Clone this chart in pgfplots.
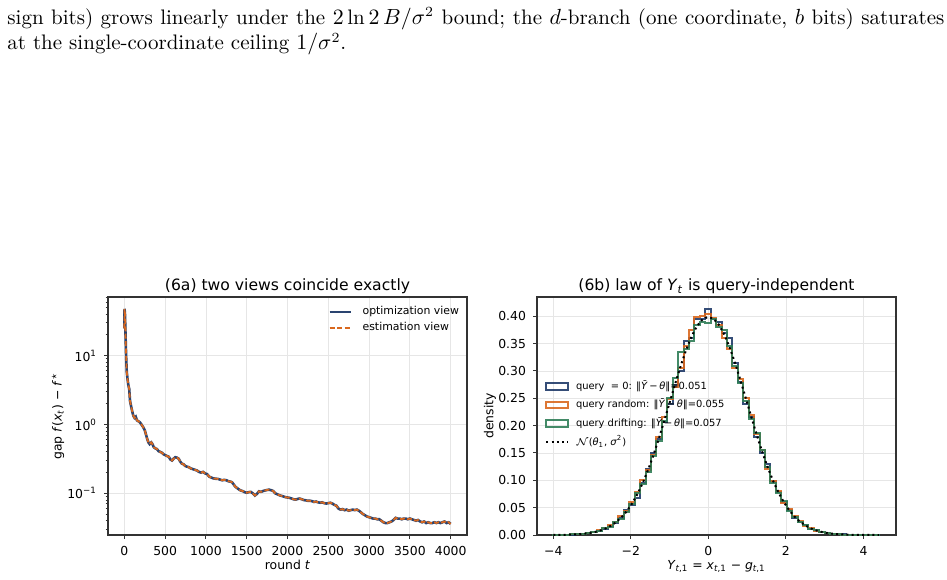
\documentclass[border=0pt]{standalone}
\usepackage{fontspec}
\usepackage{pgfplots}
\pgfplotsset{compat=1.18}
\usepackage{pgfplotstable}
\newfontfamily\dv{DejaVu Sans}
\definecolor{navy}{HTML}{1F3A68}
\definecolor{orng}{HTML}{D9681E}
\definecolor{grn}{HTML}{2F7D57}
\definecolor{gridc}{HTML}{E6E6E6}
\newcommand\tickfont{\dv\fontsize{6.2}{7.4}\selectfont}
\newcommand\labfont{\dv\fontsize{6.2}{7.4}\selectfont}
\newcommand\titfont{\dv\fontsize{7.8}{9.2}\selectfont}
\newcommand\legfont{\dv\fontsize{5.45}{6.5}\selectfont}
\newcommand\legfontb{\dv\fontsize{4.95}{5.9}\selectfont}

\pgfplotstableread{
t v
0 25
3 48
8 40
15 20
22 10
30 5.8
40 4.5
50 3.7
60 3.3
70 2.2
85 1.8
100 1.5
110 1.35
125 1.25
140 1.3
155 1.15
170 1.12
190 1.08
210 1.0
230 0.92
250 0.83
265 0.72
280 0.62
295 0.55
310 0.52
330 0.55
345 0.52
360 0.47
380 0.45
400 0.44
420 0.41
440 0.40
460 0.39
480 0.37
500 0.36
520 0.35
545 0.34
565 0.31
585 0.30
605 0.32
625 0.335
645 0.33
665 0.32
685 0.29
705 0.27
725 0.265
745 0.25
765 0.245
790 0.24
815 0.23
840 0.225
865 0.22
890 0.215
915 0.205
940 0.20
965 0.205
990 0.195
1015 0.19
1040 0.175
1065 0.17
1090 0.165
1120 0.163
1150 0.162
1175 0.158
1200 0.155
1225 0.157
1250 0.155
1275 0.150
1300 0.148
1320 0.145
1340 0.135
1360 0.125
1380 0.12
1400 0.115
1425 0.11
1450 0.108
1475 0.104
1500 0.102
1525 0.104
1550 0.105
1575 0.10
1600 0.093
1625 0.098
1650 0.107
1675 0.105
1700 0.108
1725 0.11
1750 0.112
1775 0.113
1800 0.111
1825 0.108
1850 0.10
1875 0.097
1900 0.094
1925 0.092
1950 0.090
1975 0.088
2000 0.087
2025 0.086
2050 0.084
2075 0.082
2100 0.081
2125 0.083
2150 0.084
2175 0.082
2200 0.080
2225 0.079
2250 0.078
2275 0.078
2300 0.077
2325 0.075
2350 0.076
2375 0.074
2400 0.073
2425 0.074
2450 0.072
2475 0.071
2500 0.072
2525 0.073
2550 0.071
2575 0.068
2600 0.066
2625 0.060
2650 0.058
2675 0.059
2700 0.057
2725 0.058
2750 0.056
2775 0.057
2800 0.058
2825 0.057
2850 0.058
2875 0.056
2900 0.053
2925 0.050
2950 0.048
2975 0.046
3000 0.045
3025 0.044
3050 0.043
3075 0.043
3100 0.042
3125 0.042
3150 0.040
3175 0.038
3200 0.037
3225 0.037
3250 0.038
3275 0.039
3300 0.041
3325 0.044
3350 0.043
3375 0.043
3400 0.042
3425 0.043
3450 0.043
3475 0.042
3500 0.043
3525 0.042
3550 0.041
3575 0.040
3600 0.041
3625 0.039
3650 0.038
3675 0.039
3700 0.037
3725 0.038
3750 0.037
3775 0.037
3800 0.038
3825 0.037
3850 0.038
3875 0.037
3900 0.038
3925 0.039
3950 0.037
3975 0.038
4000 0.036
}\gaptab

\pgfplotstableread{
x b o g
-4.00 0 0 0
-4.00 .0002 .0003 .0002
-3.86 .0004 .0003 .0005
-3.72 .0006 .0007 .0004
-3.58 .0009 .0010 .0012
-3.44 .0016 .0013 .0015
-3.30 .0020 .0026 .0024
-3.16 .0036 .0030 .0038
-3.02 .0048 .0060 .0055
-2.88 .0082 .0085 .0072
-2.74 .0110 .0125 .0120
-2.60 .0170 .0175 .0150
-2.46 .0220 .0245 .0240
-2.32 .0310 .0345 .0300
-2.18 .0450 .0440 .0420
-2.04 .0540 .0600 .0560
-1.90 .0680 .0790 .0760
-1.76 .0960 .1000 .0930
-1.62 .1210 .1180 .1150
-1.48 .1500 .1460 .1450
-1.34 .1760 .1800 .1720
-1.20 .2060 .2150 .2080
-1.06 .2400 .2480 .2500
-0.92 .2740 .2700 .2880
-0.78 .3000 .3050 .3350
-0.64 .3550 .3450 .3400
-0.50 .3600 .3750 .3550
-0.36 .3950 .3980 .3850
-0.22 .3950 .4000 .3900
-0.08 .4140 .4050 .3880
0.06 .3950 .3970 .3950
0.20 .3900 .3850 .3800
0.34 .3700 .3600 .3750
0.48 .3600 .3400 .3450
0.62 .3150 .3050 .3100
0.76 .2800 .2850 .2780
0.90 .2400 .2500 .2460
1.04 .2150 .2200 .2120
1.18 .1800 .1850 .1870
1.32 .1500 .1550 .1550
1.46 .1300 .1200 .1250
1.60 .0980 .0990 .0960
1.74 .0780 .0800 .0760
1.88 .0600 .0580 .0620
2.02 .0450 .0470 .0440
2.16 .0310 .0350 .0330
2.30 .0240 .0250 .0230
2.44 .0175 .0165 .0180
2.58 .0115 .0125 .0110
2.72 .0085 .0080 .0090
2.86 .0050 .0060 .0052
3.00 .0038 .0034 .0040
3.14 .0022 .0025 .0020
3.28 .0016 .0014 .0017
3.42 .0010 .0008 .0009
3.56 .0006 .0004 .0005
3.70 .0003 .0004 .0002
3.84 .0002 .0001 .0003
3.98 .0001 .0002 .0001
4.12 .0000 .0001 .0001
4.26 .0001 .0000 .0001
4.40 .0001 .0000 .0001
4.40 0 0 0
}\histtab

\pgfplotstableread{
x p
-4.00 .0001
-3.93 .0002
-3.79 .0003
-3.65 .0005
-3.51 .0008
-3.37 .0014
-3.23 .0022
-3.09 .0034
-2.95 .0051
-2.81 .0077
-2.67 .0113
-2.53 .0163
-2.39 .0229
-2.25 .0317
-2.11 .0431
-1.97 .0573
-1.83 .0748
-1.69 .0957
-1.55 .1200
-1.41 .1476
-1.27 .1781
-1.13 .2107
-0.99 .2444
-0.85 .2780
-0.71 .3101
-0.57 .3393
-0.43 .3637
-0.29 .3825
-0.15 .3945
-0.01 .3989
0.13 .3956
0.27 .3847
0.41 .3668
0.55 .3429
0.69 .3144
0.83 .2822
0.97 .2492
1.11 .2154
1.25 .1826
1.39 .1518
1.53 .1238
1.67 .0989
1.81 .0775
1.95 .0596
2.09 .0449
2.23 .0331
2.37 .0240
2.51 .0171
2.65 .0119
2.79 .0081
2.93 .0055
3.07 .0036
3.21 .0023
3.35 .0015
3.49 .0009
3.63 .0005
3.77 .0003
3.91 .0002
4.05 .0001
4.19 .0001
4.33 .0000
4.40 .0000
}\normtab

\pgfplotsset{
  histleg/.style={legend image code/.code={\draw[##1] (0pt,-1.65pt) rectangle (10.8pt,1.65pt);}},
  lineleg/.style={legend image code/.code={\draw[##1] (0pt,0pt) -- (10.8pt,0pt);}},
  myax/.style={
    scale only axis, width=179.5pt, height=119pt, anchor=south west,
    axis line style={black!80, line width=0.6pt},
    tick style={black!80, line width=0.5pt},
    tick align=outside, major tick length=2pt, minor tick length=1.2pt,
    xtick pos=bottom, ytick pos=left,
    grid=major, major grid style={line width=0.4pt, color=gridc},
    tick label style={font=\tickfont},
    /pgf/number format/assume math mode=true,
    /pgf/number format/1000 sep={},
    title style={font=\titfont, at={(0.5,1)}, anchor=base, yshift=-3pt},
    label style={font=\labfont},
    xlabel style={at={(axis description cs:0.5,0)}, anchor=base, yshift=-17pt},
    legend cell align=left,
  }
}

\begin{document}
\begin{tikzpicture}
\useasboundingbox (0,0) rectangle (473.5pt,289.5pt);
\node[anchor=base west, inner sep=0pt] at (3.5pt,277.35pt) {\fontsize{10.5}{12.85}\selectfont\makebox[468.5pt][s]{sign bits) grows linearly under the $2\ln 2\,B/\sigma^2$ bound; the $d$-branch (one coordinate, $b$ bits) saturates}};
\node[anchor=base west, inner sep=0pt] at (3.5pt,264.5pt) {\fontsize{10.5}{12.85}\selectfont at the single-coordinate ceiling $1/\sigma^2$.};

\begin{axis}[myax, at={(54pt,22pt)},
  ymode=log, xmin=-200, xmax=4200, ymin=0.0248, ymax=71.3,
  xtick={0,500,1000,1500,2000,2500,3000,3500,4000},
  ytick={0.1,1,10}, yticklabels={10\textsuperscript{−1},10\textsuperscript{0},10\textsuperscript{1}},
  minor ytick={0.03,0.04,0.05,0.06,0.07,0.08,0.09,0.2,0.3,0.4,0.5,0.6,0.7,0.8,0.9,2,3,4,5,6,7,8,9,20,30,40,50,60,70},
  title={(6a) two views coincide exactly},
  xlabel={round \textit{t}},
  ylabel={gap \textit{f}(\textit{x}\textsubscript{\textit{t}}) − \textit{f}\textsuperscript{$\star$}},
  ylabel style={at={([xshift=-25pt]axis description cs:0,0.5)}, anchor=center},
  legend style={at={(axis description cs:0,1)}, xshift=110pt, yshift=-4.25pt, anchor=north west, draw=none, fill=none, inner sep=0pt, font=\legfont, row sep=1.6pt, column sep=0pt, nodes={inner sep=0.5pt, text height=4pt, text depth=1.2pt}},
  lineleg,
]
\addplot[navy, line width=1.3pt, opacity=0.95] table[x=t, y=v] {\gaptab};
\addlegendentry{\hspace{4.5pt}optimization view}
\addplot[orng, line width=0.9pt, dash pattern=on 2.5pt off 1.2pt] table[x=t, y=v] {\gaptab};
\addlegendentry{\hspace{4.5pt}estimation view}
\end{axis}

\begin{axis}[myax, at={(268.5pt,22pt)},
  xmin=-4.42, xmax=4.84, ymin=0, ymax=0.4353,
  xtick={-4,-2,0,2,4}, xticklabels={−4,−2,0,2,4},
  ytick={0,0.05,0.1,0.15,0.2,0.25,0.3,0.35,0.4},
  yticklabel style={/pgf/number format/.cd, fixed, fixed zerofill, precision=2},
  title={(6b) law of \textit{Y}\textsubscript{\textit{t}} is query-independent},
  xlabel={\textit{Y}\textsubscript{\textit{t},1} = \textit{x}\textsubscript{\textit{t},1} − \textit{g}\textsubscript{\textit{t},1}},
  ylabel={density},
  ylabel style={at={([xshift=-23.5pt]axis description cs:0,0.5)}, anchor=center},
  legend style={at={(axis description cs:0,1)}, xshift=4pt, yshift=-41.4pt, anchor=north west, draw=none, fill=none, inner sep=0pt, font=\legfontb, row sep=3.1pt, column sep=0pt, nodes={inner sep=0.5pt, text height=4pt, text depth=1.2pt}},
]
\addplot[navy, line width=1pt, opacity=0.9, const plot mark left, histleg] table[x=x, y=b] {\histtab};
\addlegendentry{\hspace{3pt}query \ = 0: ‖\textit{Ȳ}\,−\,\textit{θ}‖=0.051}
\addplot[orng, line width=1pt, opacity=0.9, const plot mark left, histleg] table[x=x, y=o] {\histtab};
\addlegendentry{\hspace{3pt}query random: ‖\textit{Ȳ}\,−\,\textit{θ}‖=0.055}
\addplot[grn, line width=1pt, opacity=0.9, const plot mark left, histleg] table[x=x, y=g] {\histtab};
\addlegendentry{\hspace{3pt}query drifting: ‖\textit{Ȳ}\,−\,\textit{θ}‖=0.057}
\addplot[black, line width=1pt, dash pattern=on 1pt off 1.6pt, lineleg] table[x=x, y=p] {\normtab};
\addlegendentry{\hspace{3pt}$\mathcal{N}$(\textit{θ}\textsubscript{1}, \textit{σ}\textsuperscript{2})}
\end{axis}
\end{tikzpicture}
\end{document}
